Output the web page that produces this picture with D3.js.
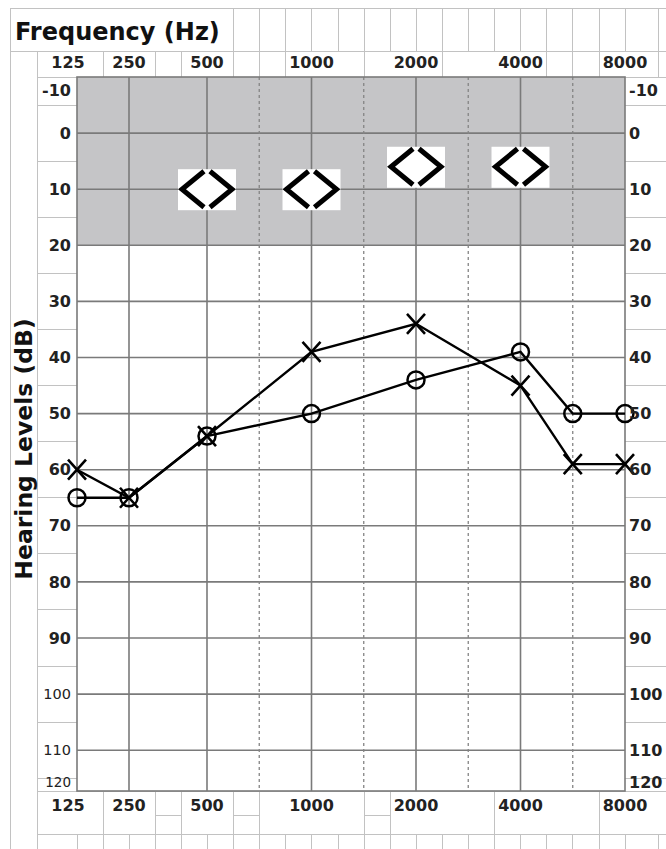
<!DOCTYPE html>
<html>
<head>
<meta charset="utf-8">
<script src="https://cdn.jsdelivr.net/npm/d3@7"></script>
<style>
  body { margin: 0; background: #fff; }
  text { font-family: "DejaVu Sans", Verdana, sans-serif; }
</style>
</head>
<body>
<div id="chart"></div>
<script>
// audiogram data
var freqs = [125, 250, 500, 1000, 2000, 4000, 6000, 8000];
var circleLevels = [65, 65, 54, 50, 44, 39, 50, 50];   // O
var crossLevels = [60, 65, 54, 39, 34, 45, 59, 59];    // X

// masked bone conduction  < >
var boneFreqs = [500, 1000, 2000, 4000];
var boneLevels = [10, 10, 6, 6];

// tick labels
var freqLabels = [125, 250, 500, 1000, 2000, 4000, 8000];
var halfFreqs = [750, 1500, 3000, 6000];
var dbTicks = [-10, 0, 10, 20, 30, 40, 50, 60, 70, 80, 90, 100, 110, 120];

var width = 666, height = 849;
var plot = {left: 77, right: 625, top: 77, bottom: 791};
var frameColor = "#c2c2c2", gridColor = "#7a7a7a";

var svg = d3.select("#chart")
  .append("svg")
    .attr("width", width)
    .attr("height", height);

// octave steps (half octaves for 750, 1500...)
function octave(f) { return Math.round(2 * Math.log2(f / 125)) / 2; }

var xScale = d3.scaleLinear()
  .domain([0, 1, 2, 6])
  .range([plot.left, 129, 207, plot.right]);

var yScale = d3.scaleLinear()
  .domain([-10, 120])
  .range([plot.top, plot.top + 130 * 5.61]);

function fx(f) { return xScale(octave(f)); }

// ---------- spreadsheet frame behind the chart ----------
var frame = svg.append("g")
  .attr("stroke", frameColor)
  .attr("stroke-width", 1)
  .attr("shape-rendering", "crispEdges");

function hline(x1, x2, y) {
  frame.append("line").attr("x1", x1).attr("x2", x2).attr("y1", y).attr("y2", y);
}
function vline(x, y1, y2) {
  frame.append("line").attr("x1", x).attr("x2", x).attr("y1", y1).attr("y2", y2);
}

var cols = d3.range(22).map(function(k) { return plot.left + k * 26.1; });

hline(10, width, 8);
hline(10, width, 51);
hline(37, width, plot.top);
hline(37, width, plot.bottom);
hline(37, width, 834);
vline(10, 8, height);
vline(37, 51, height);
vline(658, 8, 51);

// header columns
cols.slice(6).forEach(function(c) { vline(c, 8, 51); });
[1, 3, 4, 6, 7, 8, 11, 14, 18, 19, 20].forEach(function(k) { vline(cols[k], 51, plot.top); });
vline(658, 51, plot.top);

// bottom label row + columns below it
[1, 3, 4, 6, 7, 11, 12, 16, 20].forEach(function(k) { vline(cols[k], plot.bottom, 834); });
[3, 6, 11].forEach(function(k) { hline(cols[k], cols[k + 1], 815); });
cols.forEach(function(c) { vline(c, 834, height); });
vline(658, 834, height);

// label columns: lines half way between the dB ticks
d3.range(-5, 120, 10).forEach(function(v) {
  hline(37, plot.left, yScale(v));
  hline(plot.right, width, yScale(v));
});

// ---------- plot area ----------
// gray normal range band
svg.append("rect")
  .attr("x", plot.left)
  .attr("y", yScale(-10))
  .attr("width", plot.right - plot.left)
  .attr("height", yScale(20) - yScale(-10))
  .attr("fill", "#c5c5c7");

var grid = svg.append("g")
  .attr("stroke", gridColor)
  .attr("stroke-width", 1.6);

grid.selectAll(".hgrid")
  .data(dbTicks.filter(function(d) { return d > -10 && d < 120; }))
  .enter()
  .append("line")
    .attr("x1", plot.left)
    .attr("x2", plot.right)
    .attr("y1", function(d) { return yScale(d); })
    .attr("y2", function(d) { return yScale(d); });

grid.selectAll(".vgrid")
  .data(freqLabels.slice(1, -1))
  .enter()
  .append("line")
    .attr("x1", function(d) { return fx(d); })
    .attr("x2", function(d) { return fx(d); })
    .attr("y1", plot.top)
    .attr("y2", plot.bottom);

grid.selectAll(".dgrid")
  .data(halfFreqs)
  .enter()
  .append("line")
    .attr("x1", function(d) { return fx(d); })
    .attr("x2", function(d) { return fx(d); })
    .attr("y1", plot.top)
    .attr("y2", plot.bottom)
    .attr("stroke", "#848484")
    .attr("stroke-width", 1.3)
    .attr("stroke-dasharray", "3,3");

// border
svg.append("rect")
  .attr("x", plot.left)
  .attr("y", plot.top)
  .attr("width", plot.right - plot.left)
  .attr("height", plot.bottom - plot.top)
  .attr("fill", "none")
  .attr("stroke", gridColor)
  .attr("stroke-width", 1.6);

// ---------- bone conduction symbols ----------
var bone = svg.append("g").selectAll("g")
  .data(boneFreqs.map(function(f, i) { return {f: f, db: boneLevels[i]}; }))
  .enter()
  .append("g")
    .attr("transform", function(d) { return "translate(" + fx(d.f) + "," + yScale(d.db) + ")"; });

bone.append("rect")
  .attr("x", -29).attr("y", -20)
  .attr("width", 58).attr("height", 41)
  .attr("fill", "#fff");

bone.append("path")
  .attr("d", "M-3,-18 L-25,0 L-3,18 M3,-18 L25,0 L3,18")
  .attr("fill", "none")
  .attr("stroke", "#000")
  .attr("stroke-width", 5);

// ---------- threshold lines ----------
var line = d3.line()
  .x(function(d) { return fx(d.f); })
  .y(function(d) { return yScale(d.db); });

var circleData = freqs.map(function(f, i) { return {f: f, db: circleLevels[i]}; });
var crossData = freqs.map(function(f, i) { return {f: f, db: crossLevels[i]}; });

[circleData, crossData].forEach(function(series) {
  svg.append("path")
    .datum(series)
    .attr("d", line)
    .attr("fill", "none")
    .attr("stroke", "#000")
    .attr("stroke-width", 2.4);
});

svg.append("g").selectAll("circle")
  .data(circleData)
  .enter()
  .append("circle")
    .attr("cx", function(d) { return fx(d.f); })
    .attr("cy", function(d) { return yScale(d.db); })
    .attr("r", 8.5)
    .attr("fill", "none")
    .attr("stroke", "#000")
    .attr("stroke-width", 2.5);

svg.append("g").selectAll("path")
  .data(crossData)
  .enter()
  .append("path")
    .attr("transform", function(d) { return "translate(" + fx(d.f) + "," + yScale(d.db) + ")"; })
    .attr("d", "M-9,-10 L9,10 M-9,10 L9,-10")
    .attr("stroke", "#000")
    .attr("stroke-width", 2.6);

// ---------- text ----------
svg.append("text")
  .attr("x", 15)
  .attr("y", 40)
  .attr("font-size", 24)
  .attr("font-weight", "bold")
  .attr("fill", "#111")
  .text("Frequency (Hz)");

svg.append("text")
  .attr("transform", "translate(32,449) rotate(-90)")
  .attr("text-anchor", "middle")
  .attr("font-size", 23.5)
  .attr("font-weight", "bold")
  .attr("fill", "#111")
  .text("Hearing Levels (dB)");

// frequency labels top and bottom
[62, 805].forEach(function(yy) {
  svg.append("g").selectAll("text")
    .data(freqLabels)
    .enter()
    .append("text")
      .attr("x", function(d, i) { return fx(d) + (i === 0 ? -9 : 0); })
      .attr("y", yy)
      .attr("dy", "0.35em")
      .attr("text-anchor", "middle")
      .attr("font-size", 16)
      .attr("font-weight", "bold")
      .attr("fill", "#222")
      .text(function(d) { return d; });
});

function labelY(d) {
  if (d === -10) return yScale(d) + 13;
  if (d === 120) return plot.bottom - 9;
  return yScale(d);
}

// left dB labels
svg.append("g").selectAll("text")
  .data(dbTicks)
  .enter()
  .append("text")
    .attr("x", 71)
    .attr("y", labelY)
    .attr("dy", "0.35em")
    .attr("text-anchor", "end")
    .attr("font-size", function(d) { return d === 120 ? 13.5 : (d >= 100 ? 14.5 : 16); })
    .attr("font-weight", function(d) { return d >= 100 ? "normal" : "bold"; })
    .attr("fill", "#222")
    .text(function(d) { return d; });

// right dB labels
svg.append("g").selectAll("text")
  .data(dbTicks)
  .enter()
  .append("text")
    .attr("x", 629)
    .attr("y", labelY)
    .attr("dy", "0.35em")
    .attr("font-size", 16)
    .attr("font-weight", "bold")
    .attr("fill", "#222")
    .text(function(d) { return d; });
</script>
</body>
</html>
